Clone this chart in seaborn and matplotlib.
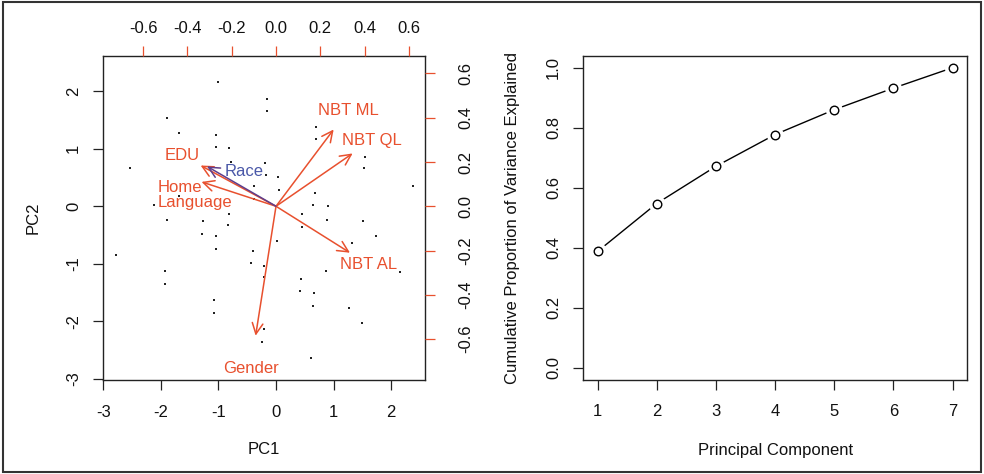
import numpy as np
import pandas as pd
import matplotlib
matplotlib.use("Agg")
import matplotlib.pyplot as plt
import seaborn as sns
from matplotlib.patches import Rectangle

sns.set_theme(style="white")
plt.rcParams["font.family"] = ["Liberation Sans", "DejaVu Sans"]
plt.rcParams["axes.unicode_minus"] = False

# ---- data -------------------------------------------------------------
# principal component scores of the observations
pc1 = [-1.005, -0.156, -0.156, -1.89, -1.68, -1.035, -1.035, -0.82, 0.70, 0.70,
       1.55, 1.53, -2.54, -0.79, -0.185, -0.17, 0.03, -0.39, 0.045, -0.39,
       0.68, 2.385, -1.69, -2.12, 0.65, 0.895, -0.82, -1.90, -1.27, 0.45,
       0.88, -0.84, 0.45, -1.28, -1.05, 1.51, 1.73, 0.02, 1.32, -1.05,
       -2.785, -0.405, -0.43, -0.215, 0.87, 2.155, -1.93, -1.935, -0.20, 0.44,
       0.42, 0.66, 0.64, 1.27, -1.08, -1.07, 1.49, -0.215, -0.24, 0.61]
pc2 = [2.15, 1.86, 1.65, 1.53, 1.28, 1.24, 1.03, 1.01, 1.37, 1.16,
       0.86, 0.66, 0.67, 0.77, 0.745, 0.54, 0.50, 0.355, 0.28, 0.13,
       0.23, 0.355, 0.175, 0.03, 0.03, 0.0, -0.13, -0.23, -0.26, -0.14,
       -0.23, -0.33, -0.36, -0.49, -0.51, -0.26, -0.51, -0.61, -0.64, -0.74,
       -0.84, -0.78, -0.98, -1.03, -1.12, -1.15, -1.13, -1.35, -1.23, -1.26,
       -1.48, -1.51, -1.74, -1.77, -1.62, -1.855, -2.02, -2.13, -2.35, -2.63]

# variable loadings (arrows are drawn to 0.8 of these, as in R's biplot)
variables = ["NBT ML", "NBT QL", "NBT AL", "Gender", "EDU", "Race", "Home\nLanguage"]
load_pc1 = [0.325, 0.432, 0.417, -0.115, -0.425, -0.389, -0.420]
load_pc2 = [0.433, 0.298, -0.262, -0.730, 0.230, 0.225, 0.1375]

# cumulative proportion of variance explained
components = [1, 2, 3, 4, 5, 6, 7]
cum_var = [0.387, 0.547, 0.671, 0.777, 0.860, 0.932, 1.0]

# ---- styling ----------------------------------------------------------
RED = "#E8502E"
BLUE = "#4A58A8"
RACE_ARROW = "#5E3E8C"
FS = 12
W, H = 984, 474

scores = pd.DataFrame({"PC1": pc1, "PC2": pc2})
loads = pd.DataFrame({"var": variables, "x": load_pc1, "y": load_pc2})
scree = pd.DataFrame({"Principal Component": components, "cum": cum_var})

fig = plt.figure(figsize=(W / 100, H / 100), dpi=100)
fig.patch.set_facecolor("white")


def px_axes(left, top, right, bottom):
    return fig.add_axes([left / W, 1 - bottom / H, (right - left) / W, (bottom - top) / H])


def r_axes_style(a):
    for s in a.spines.values():
        s.set_color("#222222")
        s.set_linewidth(1.0)
    a.tick_params(axis="both", which="major", direction="out", length=7, width=0.9,
                  color="#222222", labelsize=FS, labelcolor="#111111")
    a.tick_params(axis="x", bottom=True, pad=11)
    a.tick_params(axis="y", left=True, pad=9)
    for lab in a.get_yticklabels():
        lab.set_rotation(90)
        lab.set_va("center")


# ---- biplot -----------------------------------------------------------
box = (103.3, 55.5, 425.0, 380.0)
ax = px_axes(*box)
sns.scatterplot(data=scores, x="PC1", y="PC2", ax=ax, color="#222222", s=4,
                marker="s", linewidth=0, zorder=2)
ax.set_xlim(-2.995, 2.588)
ax.set_ylim(-3.018, 2.619)
ax.set_xticks(range(-3, 3))
ax.set_yticks(range(-3, 3))
ax.set_xticklabels([str(v) for v in range(-3, 3)])
ax.set_yticklabels([str(v) for v in range(-3, 3)])
r_axes_style(ax)
ax.set_xlabel("PC1", fontsize=FS, color="#111111")
ax.set_ylabel("PC2", fontsize=FS, color="#111111")
bw, bh = box[2] - box[0], box[3] - box[1]
ax.xaxis.set_label_coords(0.5, -(450 - box[3]) / bh)
ax.xaxis.label.set_va("center")
ax.yaxis.set_label_coords((33 - box[0]) / bw, 0.5)
ax.yaxis.label.set_va("center")

# overlay axes in loading units (top and right scales)
k = 3.85
axl = fig.add_axes(ax.get_position(), label="loadings")
axl.set_xlim(np.array(ax.get_xlim()) / k)
axl.set_ylim(np.array(ax.get_ylim()) / k)
axl.patch.set_visible(False)
for s in axl.spines.values():
    s.set_visible(False)
lt = np.round(np.arange(-0.6, 0.61, 0.2), 1)
axl.set_xticks(lt)
axl.set_yticks(lt)
axl.set_xticklabels([f"{v:.1f}" for v in lt])
axl.set_yticklabels([f"{v:.1f}" for v in lt])
axl.xaxis.tick_top()
axl.yaxis.tick_right()
axl.tick_params(axis="both", direction="out", length=7, width=0.9, color=RED,
                labelsize=FS, labelcolor="#111111")
axl.tick_params(axis="x", pad=7)
axl.tick_params(axis="y", pad=17)
for lab in axl.get_yticklabels():
    lab.set_rotation(90)
    lab.set_va("center")

label_pos = {"Race": (-0.143, 0.155, "center"), "Home\nLanguage": (-0.534, 0.05, "left")}
for _, row in loads.iterrows():
    is_race = row["var"] == "Race"
    c_arrow = RACE_ARROW if is_race else RED
    c_text = BLUE if is_race else RED
    axl.annotate("", xy=(0.8 * row["x"], 0.8 * row["y"]), xytext=(0, 0),
                 arrowprops=dict(arrowstyle="->,head_length=0.65,head_width=0.32",
                                 color=c_arrow, lw=1.1, shrinkA=0, shrinkB=0),
                 zorder=4 if is_race else 3)
    lx, ly, ha = label_pos.get(row["var"], (row["x"], row["y"], "center"))
    axl.text(lx, ly, row["var"], color=c_text, fontsize=FS, ha=ha, va="center",
             linespacing=0.95, zorder=5)

# ---- cumulative variance plot -----------------------------------------
box2 = (583.3, 55.7, 966.9, 379.5)
ax2 = px_axes(*box2)
sns.lineplot(data=scree, x="Principal Component", y="cum", ax=ax2, color="black",
             linewidth=1.0, zorder=2)
# white discs leave the small gaps between line and points
ax2.scatter(scree["Principal Component"], scree["cum"], s=150, color="white",
            linewidths=0, zorder=3)
ax2.scatter(scree["Principal Component"], scree["cum"], s=38, facecolors="white",
            edgecolors="black", linewidths=1.0, zorder=4)
ax2.set_xlim(0.76, 7.24)
ax2.set_ylim(-0.04, 1.04)
ax2.set_xticks(components)
ax2.set_xticklabels([str(v) for v in components])
yt = [0.0, 0.2, 0.4, 0.6, 0.8, 1.0]
ax2.set_yticks(yt)
ax2.set_yticklabels([f"{v:.1f}" for v in yt])
r_axes_style(ax2)
ax2.set_xlabel("Principal Component", fontsize=FS, color="#111111")
ax2.set_ylabel("Cumulative Proportion of Variance Explained", fontsize=FS, color="#111111")
bw2, bh2 = box2[2] - box2[0], box2[3] - box2[1]
ax2.xaxis.set_label_coords(0.5, -(450 - box2[3]) / bh2)
ax2.xaxis.label.set_va("center")
ax2.yaxis.set_label_coords((513 - box2[0]) / bw2, 0.5)
ax2.yaxis.label.set_va("center")

# outer frame
fig.add_artist(Rectangle((3 / W, 2 / H), 978 / W, 470 / H, transform=fig.transFigure,
                         fill=False, edgecolor="#333333", linewidth=1.5))

fig.savefig("out.png", dpi=100, facecolor="white")
